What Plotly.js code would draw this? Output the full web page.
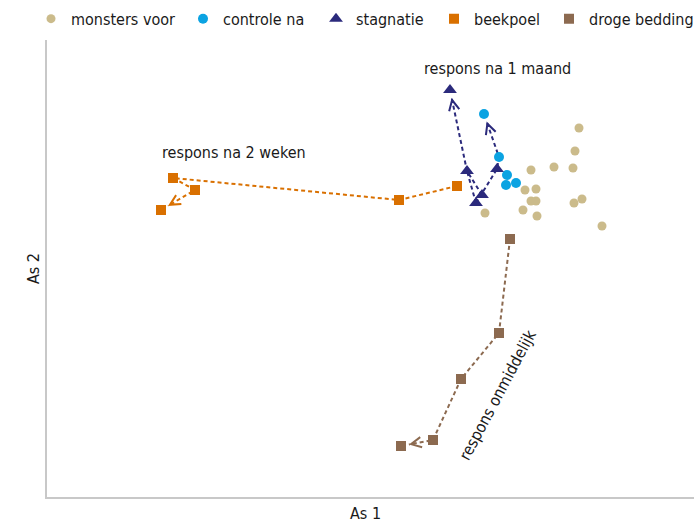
<!DOCTYPE html>
<html>
<head>
<meta charset="utf-8">
<script src="https://cdn.plot.ly/plotly-3.0.1.min.js"></script>
<style>html,body{margin:0;padding:0;background:#fff}#chart{width:694px;height:522px}</style>
</head>
<body>
<div id="chart"></div>
<script>
// Ordination scores (As 1, As 2), arbitrary units
const voorX = [579, 575, 531, 554, 573, 525, 536, 531, 536, 523, 537, 485, 574, 582, 602];
const voorY = [394, 371, 352, 355, 354, 332, 333, 321, 321, 312, 306, 309, 319, 323, 296];
const controleX = [484, 499, 507, 506, 516];
const controleY = [408, 365, 347, 337, 339];
const stagX = [450, 467, 482, 476, 497];
const stagY = [432, 351, 327, 319, 353];
const beekX = [173, 195, 161, 399, 457];
const beekY = [344, 332, 312, 322, 336];
const drogeX = [510, 499, 461, 433, 401];
const drogeY = [283, 189, 143, 82, 76];

// trajectories as [series, index] steps
const paths = [
  {color: '#2b2a7c', steps: [['s',2],['s',1],['s',0]], arrow: true},
  {color: '#2b2a7c', steps: [['s',3],['s',1]], arrow: false},
  {color: '#2b2a7c', steps: [['s',3],['s',4],['c',1],['c',0]], arrow: true},
  {color: '#d97000', steps: [['b',4],['b',3],['b',0],['b',1],['b',2]], arrow: true},
  {color: '#8c6a50', steps: [['d',0],['d',1],['d',2],['d',3],['d',4]], arrow: true}
];

const labels = ['monsters voor', 'controle na', 'stagnatie', 'beekpoel', 'droge bedding'];
const colors = ['#cbbb8b', '#0ba3e2', '#2b2a7c', '#d97000', '#8c6a50'];

const src = {s: [stagX, stagY], c: [controleX, controleY], b: [beekX, beekY], d: [drogeX, drogeY]};
const FONT = 'DejaVu Sans Condensed, sans-serif';
const FS = 16;

const traces = [];
const annotations = [];
paths.forEach(p => {
  const pts = p.steps.map(([k, i]) => [src[k][0][i], src[k][1][i]]);
  const xs = pts.map(q => q[0]), ys = pts.map(q => q[1]);
  if (p.arrow) {
    const n = pts.length;
    const dx = xs[n-1] - xs[n-2], dy = ys[n-1] - ys[n-2];
    const L = Math.hypot(dx, dy);
    const ux = dx / L, uy = dy / L;
    const gap = 8;
    xs[n-1] = xs[n-1] - ux * gap; ys[n-1] = ys[n-1] - uy * gap;
    annotations.push({x: xs[n-1], y: ys[n-1], ax: xs[n-1] - ux * 5, ay: ys[n-1] - uy * 5,
      xref: 'x', yref: 'y', axref: 'x', ayref: 'y', text: '', showarrow: true,
      font: {size: 1}, borderpad: 0,
      arrowhead: 5, arrowsize: 1.35, arrowwidth: 1.5, arrowcolor: p.color, standoff: 0});
  }
  traces.push({x: xs, y: ys, mode: 'lines', showlegend: false, hoverinfo: 'skip',
    line: {color: p.color, width: 2, dash: '4px,3px'}});
});

const sets = [[voorX, voorY, 'circle', 9], [controleX, controleY, 'circle', 10],
  [stagX, stagY, 'triangle-up', 12], [beekX, beekY, 'square', 10], [drogeX, drogeY, 'square', 10]];
const legendNames = ['legend', 'legend2', 'legend3', 'legend4', 'legend5'];
sets.forEach((s, i) => {
  traces.push({x: s[0], y: s[1], mode: 'markers', name: labels[i], legend: legendNames[i],
    marker: {symbol: s[2], size: s[3], color: colors[i], line: {width: 0}}});
});

annotations.push({x: 497, y: 454, xref: 'x', yref: 'y', text: 'respons na 1 maand', showarrow: false,
  font: {family: FONT, size: FS, color: '#1a1a1a'}});
annotations.push({x: 234, y: 370, xref: 'x', yref: 'y', text: 'respons na 2 weken', showarrow: false,
  font: {family: FONT, size: FS, color: '#1a1a1a'}});
annotations.push({x: 497, y: 127, xref: 'x', yref: 'y', text: 'respons onmiddelijk', showarrow: false,
  textangle: -62, font: {family: FONT, size: FS, color: '#1a1a1a'}});
annotations.push({x: 365, y: 0, xref: 'x', yref: 'paper', text: 'As 1', showarrow: false,
  yanchor: 'middle', yshift: -16, font: {family: FONT, size: FS, color: '#1a1a1a'}});

const legendLeft = [31, 183, 316, 434, 549];
const layout = {
  width: 694, height: 522,
  margin: {l: 47, r: 0, t: 40, b: 25, autoexpand: false},
  paper_bgcolor: '#fff', plot_bgcolor: '#fff',
  font: {family: FONT, size: FS, color: '#1a1a1a'},
  showlegend: true,
  xaxis: {range: [47, 694], showgrid: false, zeroline: false, showticklabels: false, ticks: '',
    showline: true, linecolor: '#c8c8c8', linewidth: 2, fixedrange: true},
  yaxis: {range: [25, 482], showgrid: false, zeroline: false, showticklabels: false, ticks: '',
    showline: true, linecolor: '#c8c8c8', linewidth: 2, fixedrange: true,
    title: {text: 'As 2', standoff: 1, font: {family: FONT, size: FS}}},
  annotations: annotations
};
legendNames.forEach((ln, i) => {
  layout[ln] = {orientation: 'h', xref: 'container', yref: 'container', x: legendLeft[i] / 694,
    y: 0.964, xanchor: 'left', yanchor: 'middle', bgcolor: 'rgba(0,0,0,0)',
    font: {family: FONT, size: FS, color: '#1a1a1a'}, itemclick: false};
});

Plotly.newPlot('chart', traces, layout, {displayModeBar: false, staticPlot: true});
</script>
</body>
</html>
